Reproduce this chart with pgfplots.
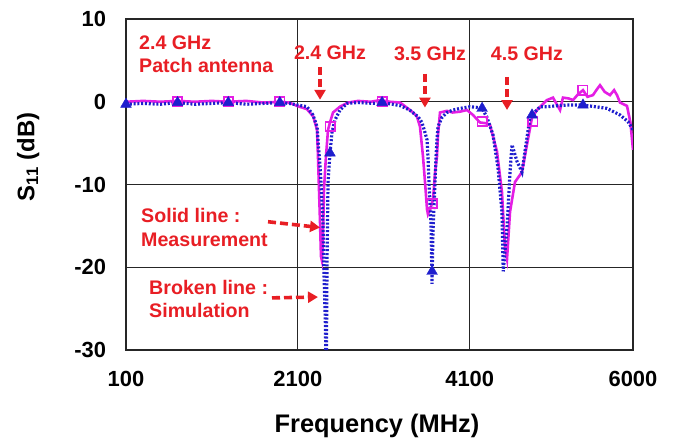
\documentclass[border=0pt]{standalone}
\usepackage{fontspec}
\setmainfont{Liberation Sans}
\usepackage{pgfplots}
\pgfplotsset{compat=1.18}
\usetikzlibrary{arrows.meta}
\definecolor{meas}{RGB}{228,30,228}
\definecolor{sim}{RGB}{30,30,205}
\definecolor{ann}{RGB}{232,30,36}
\begin{document}
\begin{tikzpicture}
\path[use as bounding box] (-126bp,-88bp) rectangle (553bp,350bp);
\begin{axis}[
 at={(0,0)}, anchor=south west,
 scale only axis, width=507bp, height=331bp,
 xmin=100, xmax=6000, ymin=-30, ymax=10,
 xtick={100,2100,4100,6000}, ytick={-30,-20,-10,0,10},
 grid=major, major grid style={black!85, line width=1.1bp},
 axis line style={black!85, line width=1.3bp},
 tick style={draw=none},
 /pgf/number format/assume math mode=true,
 /pgf/number format/set thousands separator={},
 ticklabel style={font=\fontsize{22}{22}\selectfont\bfseries},
 xticklabel style={yshift=-17.5bp},
 yticklabel style={xshift=-16.5bp},
 xlabel={Frequency (MHz)},
 ylabel={S\textsubscript{11} (dB)},
 xlabel style={at={(axis description cs:0.495,-0.248)}, anchor=base, font=\fontsize{25.5}{26}\selectfont\bfseries},
 ylabel style={at={(axis description cs:-0.193,0.583)}, anchor=center, font=\fontsize{24}{24}\selectfont\bfseries},
]
% Measurement (solid magenta)
\addplot[meas, line width=2.6bp, no marks] coordinates {
(100,0.0) (300,0.1) (500,0.0) (700,0.1) (900,0.0) (1100,0.1) (1290,0.0) (1500,0.1) (1700,-0.1) (1890,0.0) (2000,-0.1) (2090,-0.5) (2206,-0.9) (2280,-1.8) (2323,-3.4) (2334,-6.6) (2346,-10.6) (2358,-14.6) (2369,-18.7) (2380,-19.2) (2392,-16.7) (2404,-10.6) (2427,-6.6) (2451,-3.4) (2474,-2.5) (2509,-1.3) (2590,-0.6) (2683,-0.1) (2800,0.1) (2950,0.0) (3056,0.2) (3170,0.0) (3289,-0.1) (3405,-1.0) (3440,-1.3) (3486,-1.8) (3521,-3.0) (3556,-6.6) (3579,-9.6) (3603,-13.0) (3614,-13.6) (3640,-13.0) (3673,-11.8) (3696,-8.6) (3719,-6.6) (3731,-4.0) (3754,-1.3) (3835,-1.1) (3900,-1.3) (3987,-1.2) (4068,-1.0) (4138,-1.6) (4219,-2.5) (4290,-2.6) (4336,-2.8) (4417,-6.0) (4475,-10.9) (4510,-17.6) (4534,-19.0) (4569,-13.3) (4627,-9.7) (4708,-8.5) (4766,-5.2) (4825,-1.9) (4883,-1.0) (4940,-0.4) (4999,0.2) (5069,0.5) (5151,-1.0) (5185,0.5) (5250,0.4) (5302,0.2) (5360,0.9) (5418,1.4) (5470,0.6) (5534,0.8) (5580,1.5) (5616,2.0) (5670,1.2) (5732,0.8) (5780,1.4) (5814,0.8) (5849,-0.1) (5930,-0.5) (5970,-2.5) (6000,-5.8)
};
% Simulation (dotted blue)
\addplot[sim, line width=3.2bp, dash pattern=on 2bp off 1.8bp, no marks] coordinates {
(100,-0.3) (300,-0.2) (500,-0.3) (700,-0.1) (900,-0.3) (1100,-0.2) (1290,-0.1) (1500,-0.3) (1700,-0.2) (1890,-0.1) (2000,-0.2) (2100,-0.4) (2206,-0.6) (2276,-1.6) (2323,-3.0) (2334,-4.6) (2358,-7.8) (2369,-9.8) (2392,-14.6) (2404,-20.7) (2420,-26.7) (2430,-34) (2440,-18.7) (2451,-9.8) (2474,-6.2) (2497,-3.7) (2532,-2.2) (2590,-1.0) (2672,-0.2) (2800,-0.1) (3000,-0.2) (3080,-0.1) (3200,-0.3) (3300,-0.5) (3400,-1.0) (3498,-1.8) (3544,-2.5) (3579,-3.7) (3603,-4.6) (3614,-6.6) (3626,-9.8) (3649,-14.6) (3661,-22.0) (3673,-15.5) (3696,-9.8) (3708,-6.6) (3719,-4.6) (3731,-3.0) (3777,-1.9) (3835,-1.3) (3905,-1.0) (3990,-0.8) (4103,-0.6) (4200,-0.7) (4244,-0.8) (4301,-1.9) (4371,-4.0) (4429,-8.0) (4475,-13.3) (4490,-20.5) (4534,-15.2) (4569,-8.5) (4592,-5.2) (4650,-7.2) (4708,-8.5) (4743,-6.0) (4801,-1.9) (4825,-1.6) (4918,-0.6) (5000,-0.6) (5100,-0.5) (5232,-0.4) (5418,-0.4) (5560,-0.6) (5697,-0.8) (5849,-1.6) (5942,-2.4) (6000,-3.4)
};
% Markers
\addplot[meas, only marks, mark=square, mark size=4.6bp, line width=1.8bp] coordinates {
(700,0.0) (1290,0.0) (1890,0.0) (2474,-3.0) (3080,0.0) (3662,-12.3) (4244,-2.4) (4836,-2.4) (5418,1.4)
};
\addplot[sim, only marks, mark=triangle*, mark size=6.2bp] coordinates {
(100,-0.3) (700,-0.1) (1290,-0.1) (1890,-0.1) (2474,-6.2) (3080,-0.1) (3662,-20.5) (4244,-0.8) (4825,-1.6) (5418,-0.4)
};
% Annotations
\begin{scope}[every node/.style={ann, inner sep=0pt, font=\fontsize{19.7}{23}\selectfont\bfseries}]
\node[anchor=base west] at (axis cs:251,6.29) {2.4 GHz};
\node[anchor=base west] at (axis cs:251,3.5) {Patch antenna};
\node[anchor=base] at (axis cs:2474,5.08) {2.4 GHz};
\node[anchor=base] at (axis cs:3638,4.96) {3.5 GHz};
\node[anchor=base] at (axis cs:4766,4.96) {4.5 GHz};
\node[anchor=base west] at (axis cs:275,-14.6) {Solid line :};
\node[anchor=base west] at (axis cs:275,-17.5) {Measurement};
\node[anchor=base west] at (axis cs:368,-23.3) {Broken line :};
\node[anchor=base west] at (axis cs:368,-26.1) {Simulation};
\end{scope}
\begin{scope}[ann, line width=3.6bp, dash pattern=on 8bp off 4bp, -{Triangle[width=11bp,length=10bp]}]
\draw (axis cs:2358,4.2) -- (axis cs:2358,0.24);
\draw (axis cs:3579,3.4) -- (axis cs:3579,-0.7);
\draw (axis cs:4534,3.0) -- (axis cs:4534,-1.0);
\draw (axis cs:1753,-14.5) -- (axis cs:2358,-15.2);
\draw (axis cs:1799,-23.7) -- (axis cs:2334,-23.6);
\end{scope}
\end{axis}
\end{tikzpicture}
\end{document}
